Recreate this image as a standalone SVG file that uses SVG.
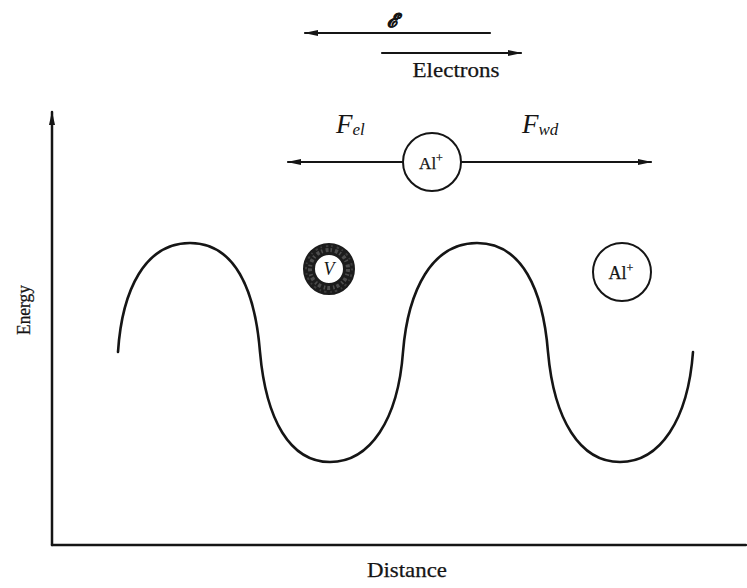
<svg xmlns="http://www.w3.org/2000/svg" width="747" height="588" viewBox="0 0 747 588">
<style>
.ln{stroke:#151515;fill:none;stroke-linecap:round}
.t{font-family:"Liberation Serif","Times New Roman",serif;fill:#151515;stroke:#151515;stroke-width:0.25}
.it{font-family:"Liberation Serif","Times New Roman",serif;font-style:italic;fill:#151515}
</style>
<defs>
<marker id="ah" viewBox="0 0 14 8" refX="13" refY="4" markerWidth="14" markerHeight="8" markerUnits="userSpaceOnUse" orient="auto">
<path d="M0,1 L14,4 L0,7 Z" fill="#151515"/>
</marker>
</defs>
<rect width="747" height="588" fill="#ffffff"/>

<g id="axes">
<line class="ln" x1="52" y1="545" x2="52" y2="112" stroke-width="2.5" marker-end="url(#ah)"/>
<line class="ln" x1="52" y1="545" x2="746" y2="545" stroke-width="2.5"/>
<text class="t" font-size="19" transform="translate(30,310) rotate(-90)" text-anchor="middle" textLength="50" lengthAdjust="spacingAndGlyphs">Energy</text>
<text class="t" font-size="21" x="407" y="577" text-anchor="middle" textLength="80" lengthAdjust="spacingAndGlyphs">Distance</text>
</g>

<g id="curve">
<path class="ln" stroke-width="2.6" d="M118,352 C122,290 145,243 190,243 C235,243 255,290 260,352 C266,420 290,462 330,462 C370,462 398,420 403,352 C408,290 432,243 477,243 C522,243 543,290 548,352 C554,420 580,462 620,462 C660,462 688,420 693,352"/>
</g>

<g id="connectors">
<line class="ln" x1="490" y1="33" x2="305" y2="33" stroke-width="2.2" marker-end="url(#ah)"/>
<line class="ln" x1="382" y1="53" x2="521" y2="53" stroke-width="2.2" marker-end="url(#ah)"/>
<line class="ln" x1="403" y1="162" x2="288" y2="162" stroke-width="2.2" marker-end="url(#ah)"/>
<line class="ln" x1="461" y1="162" x2="651" y2="162" stroke-width="2.2" marker-end="url(#ah)"/>
</g>

<g id="field-label">
<text class="it" font-size="19" font-weight="bold" x="392" y="27" text-anchor="middle" font-family="DejaVu Serif" stroke="#151515" stroke-width="0.6">ℰ</text>
</g>
<g id="electrons-label">
<text class="t" font-size="20" x="456" y="77" text-anchor="middle" textLength="87" lengthAdjust="spacingAndGlyphs">Electrons</text>
</g>

<g id="f-el">
<text class="it" font-size="27" x="336" y="133">F<tspan font-size="17" dy="2">el</tspan></text>
</g>
<g id="f-wd">
<text class="it" font-size="27" x="522" y="133">F<tspan font-size="17" dy="2">wd</tspan></text>
</g>

<g id="al-ion-top">
<circle cx="432" cy="162" r="29" fill="#fff" stroke="#151515" stroke-width="2"/>
<text class="t" font-size="17" x="431" y="169" text-anchor="middle">Al<tspan font-size="12" dy="-7">+</tspan></text>
</g>

<g id="vacancy">
<circle cx="329" cy="269" r="20" fill="#fff" stroke="#1c1c1c" stroke-width="12"/>
<circle cx="329" cy="269" r="19" fill="none" stroke="#5a5a5a" stroke-width="4" stroke-dasharray="3 2 1.5 3" opacity="0.8"/>
<circle cx="329" cy="269" r="23" fill="none" stroke="#4a4a4a" stroke-width="2" stroke-dasharray="1.5 4 2.5 3" opacity="0.7"/>
<text class="it" font-size="18" x="329" y="275" text-anchor="middle">V</text>
</g>

<g id="al-ion-right">
<circle cx="622" cy="272" r="29" fill="#fff" stroke="#151515" stroke-width="2"/>
<text class="t" font-size="18" x="621" y="279" text-anchor="middle">Al<tspan font-size="12" dy="-7">+</tspan></text>
</g>
</svg>
